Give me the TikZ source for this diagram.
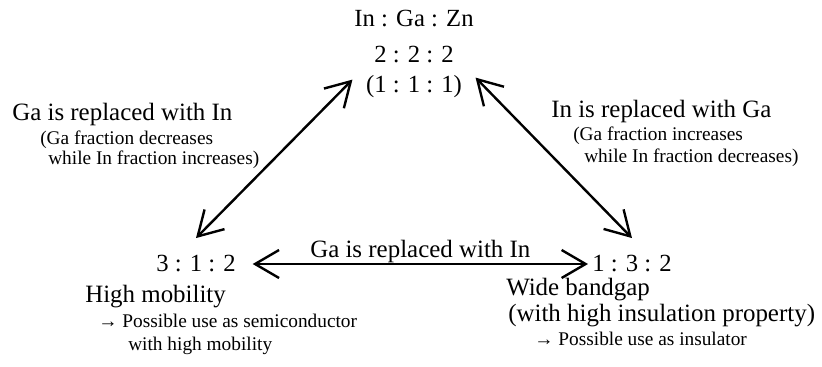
\documentclass[tikz,border=0pt]{standalone}
\usepackage{fontspec}
\setmainfont{Liberation Serif}
\usetikzlibrary{positioning,arrows.meta}

\begin{document}
\begin{tikzpicture}[
    x=0.75pt, y=-0.75pt,
    ratio/.style={inner sep=0pt, font=\fontsize{18.5}{22}\selectfont, anchor=base},
    big/.style={inner sep=0pt, font=\fontsize{18.7}{22}\selectfont, anchor=base west},
    note/.style={inner sep=0pt, font=\fontsize{14.5}{17}\selectfont, anchor=base west},
    subst/.style={{Straight Barb[length=18pt,width=21pt]}-{Straight Barb[length=18pt,width=21pt]}, line width=1.8pt}
  ]
  \useasboundingbox (0,0) rectangle (822,367);

  % Compositions
  \node[ratio] (head) at (414,27) {In : Ga : Zn};
  \node[ratio] (r222) at (414,63) {2 : 2 : 2};
  \node[ratio] (r111) at (414,93) {(1 : 1 : 1)};
  \node[ratio] (r312) at (196,272) {3 : 1 : 2};
  \node[ratio] (r132) at (632,272) {1 : 3 : 2};

  % Left side
  \node[big] (gain) at (12,121) {Ga is replaced with In};
  \node[note] (gadec) at (40,145) {(Ga fraction decreases};
  \node[note] (ininc) at (48,165) {while In fraction increases)};

  % Right side
  \node[big] (inga) at (551,118) {In is replaced with Ga};
  \node[note] (gainc) at (573,141) {(Ga fraction increases};
  \node[note] (indec) at (584,163) {while In fraction decreases)};

  % Properties
  \node[big] (mob) at (85,303) {High mobility};
  \node[note] (semi) at (98,328) {→ Possible use as semiconductor};
  \node[note] (semi2) at (128,350) {with high mobility};
  \node[big] (gap) at (506,296) {Wide bandgap};
  \node[big] (ins) at (508,321) {(with high insulation property)};
  \node[note] (ins2) at (534,345) {→ Possible use as insulator};

  % Arrows
  \draw[subst] ([yshift=13pt]r312.north) -- ([xshift=-10pt,yshift=-3pt]r111.north west);
  \draw[subst] ([yshift=13pt]r132.north) -- ([xshift=10pt,yshift=-1.5pt]r111.north east);
  \draw[subst] ([xshift=12.5pt]r312.east) -- node[above=0pt, inner sep=0pt, font=\fontsize{18.7}{22}\selectfont] (mid) {Ga is replaced with In} ([xshift=-3pt]r132.west);
\end{tikzpicture}
\end{document}
